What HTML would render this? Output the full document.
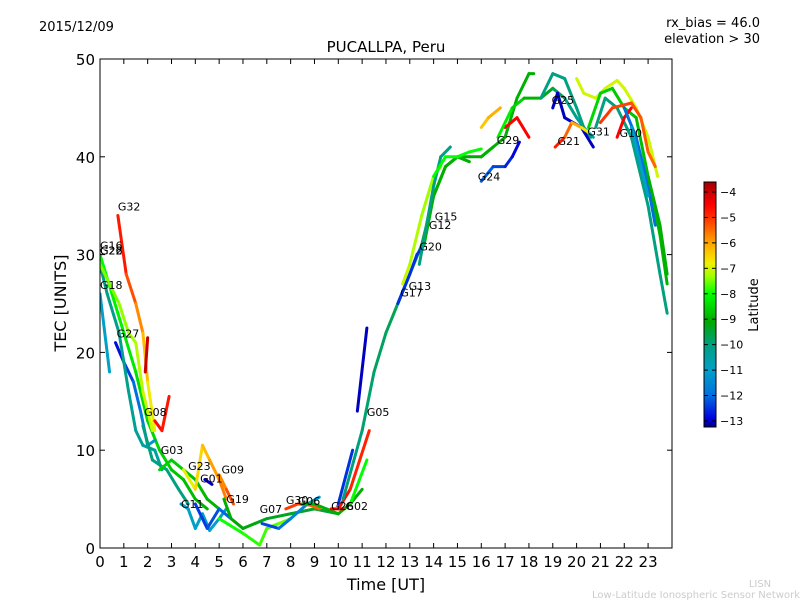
<!DOCTYPE html>
<html><head><meta charset="utf-8"><style>
body{margin:0;background:#fff;}
svg text{font-family:"DejaVu Sans","Liberation Sans",sans-serif;}
</style></head><body>
<svg id="chart" width="800" height="600" xmlns="http://www.w3.org/2000/svg">
<rect width="800" height="600" fill="#fff"/>
<text x="39" y="31" font-size="13">2015/12/09</text>
<text x="760" y="27" font-size="13" text-anchor="end">rx_bias = 46.0</text>
<text x="760" y="43" font-size="13" text-anchor="end">elevation &gt; 30</text>
<text x="386" y="52" font-size="15" text-anchor="middle">PUCALLPA, Peru</text>
<text x="386" y="590" font-size="16" text-anchor="middle">Time [UT]</text>
<text x="66" y="303" font-size="16" text-anchor="middle" transform="rotate(-90 66 303)">TEC [UNITS]</text>
<text x="760" y="587" font-size="10" fill="#ccc" text-anchor="middle">LISN</text>
<text x="800" y="598" font-size="10" fill="#ccc" text-anchor="end">Low-Latitude Ionospheric Sensor Network</text>
<defs><clipPath id="pc"><rect x="100" y="59" width="572" height="489"/></clipPath>
<linearGradient id="jetg" x1="0" y1="1" x2="0" y2="0"></linearGradient></defs>
<g id="marks" clip-path="url(#pc)"></g>
<g id="labels"></g>
<rect x="100" y="59" width="572" height="489" fill="none" stroke="#000"/>
<g id="axes"></g>
<rect x="704" y="182" width="12" height="245" stroke="#000" id="cbar"/>
<text x="758" y="305" font-size="13" text-anchor="middle" transform="rotate(-90 758 305)">Latitude</text>
<g id="cbticks"></g>
</svg>
<script>
const xTicks=[0,1,2,3,4,5,6,7,8,9,10,11,12,13,14,15,16,17,18,19,20,21,22,23];
const yTicks=[0,10,20,30,40,50];
const cbTicks=[-4,-5,-6,-7,-8,-9,-10,-11,-12,-13];
const trackLats=[[-4.5,-7],[-8,-9],[-11,-11],[-13,-11],[-10,-10.5],[-7.5,-7],[-4,-4],[-4.5,-4.8],[-10,-10],[-8.5,-9],[-7,-5.5],[-13,-13],[-6,-5],[-11,-11],[-12.5,-12],[-9,-9.5],[-8,-7.5],[-12.5,-11],[-5,-5.5],[-9,-9],[-4.5,-4.5],[-12.5,-12.5],[-4.5,-5],[-8,-8],[-10,-9],[-13,-13],[-12.5,-12.5],[-7,-7.5],[-9,-9],[-10,-10],[-8,-8],[-12,-13],[-6.5,-6],[-9,-9],[-4.5,-4.5],[-8,-11],[-10,-10],[-13,-13],[-4.5,-7],[-7,-7],[-8.5,-9],[-10,-10],[-4.5,-4.5],[-5,-5.5],[-12,-12],[-11,-11],[-9,-9]];
const trackPts=[
[[0.75,34],[1.1,28],[1.5,25],[1.8,22],[2.0,17],[2.3,12]],
[[0,30],[0.5,26],[1,22],[1.5,18],[2,13],[2.5,10],[3,8],[3.5,7],[4,5],[4.5,4]],
[[0,26],[0.4,18]],
[[0.65,21],[1,19],[1.4,17],[1.7,14],[2,10.5],[2.3,11]],
[[0,29],[0.3,26],[0.8,22],[1.2,16],[1.5,12],[1.8,10.5],[2.3,10],[2.6,8]],
[[0,29],[0.8,25],[1.2,22],[1.5,21],[1.8,16],[2.2,12]],
[[1.9,18],[2.0,21.5]],
[[2.3,13],[2.6,12],[2.9,15.5]],
[[1.8,12.5],[2.2,9],[2.8,8],[3.3,6],[3.7,4.5]],
[[2.5,8],[3,9],[3.5,8],[4,7],[4.5,5],[5,4]],
[[3.5,8],[4,6],[4.3,10.5],[4.6,9],[5,7],[5.3,5]],
[[4.4,7],[4.7,6.5]],
[[5,7.5],[5.3,6],[5.6,4.5]],
[[3.4,4.5],[3.7,4],[4,2],[4.3,3.5],[4.6,1.8],[5,3],[5.3,4]],
[[4,4.5],[4.5,2],[5,4],[5.5,3]],
[[5.2,5],[5.5,3],[6,2],[6.5,2.5],[7,3],[8,3.5],[9,4],[10,3.5]],
[[5,3],[6,1.5],[6.7,0.3],[7,2],[7.5,2.5],[8,3]],
[[6.8,2.5],[7.5,2],[8,3],[8.7,4.5],[9.2,5.2]],
[[7.8,4],[8.3,4.5],[8.8,4.4],[9.2,4]],
[[8.5,4.5],[9,4.5],[9.5,4],[10,3.5],[10.5,4.5],[11,6]],
[[9.7,4],[10.2,4]],
[[10,4.5],[10.6,10]],
[[10,4],[10.5,6],[11.3,12]],
[[10.5,4.5],[11.2,9]],
[[10.2,5],[11,12],[11.5,18],[12,22],[12.5,25],[13,28],[13.5,31],[14,36],[14.5,39],[15,40],[15.5,40],[16,40],[16.5,41]],
[[10.8,14],[11.2,22.5]],
[[12.5,25],[13,28],[13.3,30],[13.6,31]],
[[12.7,27],[13,29],[13.5,34],[14,38],[14.3,39]],
[[13.6,31],[14,36],[14.5,39],[15,40],[15.5,39.5]],
[[13.4,29],[14,37],[14.3,40],[14.7,41]],
[[14,38],[14.5,40],[15,40],[15.5,40.5],[16,40.8]],
[[16,37.5],[16.5,39],[17,39],[17.3,40],[17.6,41.5]],
[[16,43],[16.3,44],[16.8,45]],
[[16,40],[16.5,41],[17,42],[17.5,46],[18,48.5],[18.2,48.5]],
[[17,43],[17.5,44],[18,42]],
[[16.7,42],[17.3,45],[17.8,46],[18.5,46],[19,47],[19.5,46],[20,44],[20.3,43],[20.7,42]],
[[18.5,46],[19,48.5],[19.5,48],[20,45],[20.3,43],[20.6,42]],
[[19,45],[19.2,46.5],[19.5,44],[20.2,43],[20.7,41]],
[[19.1,41],[19.5,42],[19.8,43.5],[20.2,43],[20.5,42.5]],
[[20,48],[20.3,46.5],[20.8,46],[21.2,47],[21.7,47.8],[22,47],[22.5,45],[23,42],[23.4,38]],
[[20.5,43],[21,46.5],[21.5,47],[22,45],[22.5,44],[23,38],[23.5,32],[23.8,27]],
[[20.8,43],[21.2,46],[21.7,45],[22.3,42],[23,35],[23.5,28],[23.8,24]],
[[21.7,42],[22,44],[22.3,45]],
[[21,43.5],[21.5,45],[22.3,45.5],[22.7,44],[23,40.5],[23.3,39]],
[[22,45],[22.5,42],[23,37],[23.3,33]],
[[22.3,43],[23,36]],
[[23,38],[23.5,33],[23.8,28]]
];
const prnNames=["G32","G16","G22","G26","G18","G27","G08","G03","G23","G09","G01","G19","G11","G07","G30","G06","G26","G02","G05","G17","G13","G20","G12","G15","G24","G29","G25","G21","G31","G10"];
const prnT=[0.75,0,0,0,0,0.7,1.85,2.55,3.7,5.1,4.2,5.3,3.4,6.7,7.8,8.3,9.7,10.3,11.2,12.6,12.95,13.4,13.8,14.05,15.85,16.65,18.95,19.2,20.45,21.8];
const prnV=[34.5,30.5,30,30,26.5,21.5,13.5,9.6,8,7.6,6.7,4.6,4.1,3.6,4.5,4.4,3.9,3.9,13.5,25.7,26.4,30.4,32.6,33.5,37.6,41.3,45.4,41.2,42.2,42];
const xs=t=>100+t*23.83, ys=v=>548-v*9.78, latY=l=>192+(-4-l)*25.44;
const vmin=-13.24,vmax=-3.6;
const cmap=[[-13.24,[0,0,127]],[-12.9,[0,0,224]],[-12,[0,112,224]],[-11,[0,160,200]],[-10,[0,160,128]],[-9.1,[0,168,0]],[-8,[0,255,0]],[-7.3,[160,255,0]],[-6.8,[240,240,0]],[-6.3,[255,192,0]],[-5.8,[255,144,0]],[-5,[255,48,0]],[-4.5,[255,0,0]],[-3.6,[160,0,0]]];
function cm(l){l=Math.max(vmin,Math.min(vmax,l));
 for(let i=0;i<cmap.length-1;i++){const [a,ca]=cmap[i],[b,cb]=cmap[i+1];
  if(l<=b){const f=(l-a)/(b-a);const c=ca.map((v,j)=>Math.round(v+(cb[j]-v)*f));return `rgb(${c})`;}}
 return 'rgb(160,0,0)';}
const NS="http://www.w3.org/2000/svg";
const grad=document.getElementById('jetg');
cmap.forEach(([l,c])=>{const s=document.createElementNS(NS,'stop');s.setAttribute('offset',(l-vmin)/(vmax-vmin));s.setAttribute('stop-color',`rgb(${c})`);grad.appendChild(s);});
const marks=document.getElementById('marks');
trackPts.forEach((pts,i)=>{const [a,b]=trackLats[i];const n=pts.length-1;
 for(let k=0;k<n;k++){const l=a+(b-a)*(k+0.5)/Math.max(n,1);
  const ln=document.createElementNS(NS,'line');
  ln.setAttribute('x1',xs(pts[k][0]));ln.setAttribute('y1',ys(pts[k][1]));
  ln.setAttribute('x2',xs(pts[k+1][0]));ln.setAttribute('y2',ys(pts[k+1][1]));
  ln.setAttribute('stroke',cm(l));ln.setAttribute('stroke-width','3');ln.setAttribute('stroke-linecap','round');
  
  
  marks.appendChild(ln);}});
const lab=document.getElementById('labels');
prnNames.forEach((p,i)=>{const t=document.createElementNS(NS,'text');
 t.setAttribute('x',xs(prnT[i]));t.setAttribute('y',ys(prnV[i]));t.setAttribute('font-size','11');t.textContent=p;
 
 
 lab.appendChild(t);});
const ax=document.getElementById('axes');
xTicks.forEach(v=>{const x=xs(v);
 ax.insertAdjacentHTML('beforeend',`<line x1="${x}" y1="548" x2="${x}" y2="543" stroke="#000"/><line x1="${x}" y1="59" x2="${x}" y2="64" stroke="#000"/>`);
 const t=document.createElementNS(NS,'text');t.setAttribute('x',x);t.setAttribute('y',567);t.setAttribute('font-size','15');t.setAttribute('text-anchor','middle');t.textContent=v;
 
 
 ax.appendChild(t);});
yTicks.forEach(v=>{const y=ys(v);
 ax.insertAdjacentHTML('beforeend',`<line x1="100" y1="${y}" x2="105" y2="${y}" stroke="#000"/><line x1="672" y1="${y}" x2="667" y2="${y}" stroke="#000"/>`);
 const t=document.createElementNS(NS,'text');t.setAttribute('x',95);t.setAttribute('y',y+6);t.setAttribute('font-size','15');t.setAttribute('text-anchor','end');t.textContent=v;
 
 
 ax.appendChild(t);});
document.getElementById('cbar').setAttribute('fill','url(#jetg)');
const cb=document.getElementById('cbticks');
cbTicks.forEach(v=>{const y=latY(v);
 cb.insertAdjacentHTML('beforeend',`<line x1="704" y1="${y}" x2="708" y2="${y}" stroke="#000"/><line x1="716" y1="${y}" x2="712" y2="${y}" stroke="#000"/>`);
 const t=document.createElementNS(NS,'text');t.setAttribute('x',720);t.setAttribute('y',y+4);t.setAttribute('font-size','11');t.textContent='\u2212'+Math.abs(v);
 
 
 cb.appendChild(t);});
</script>
</body></html>
